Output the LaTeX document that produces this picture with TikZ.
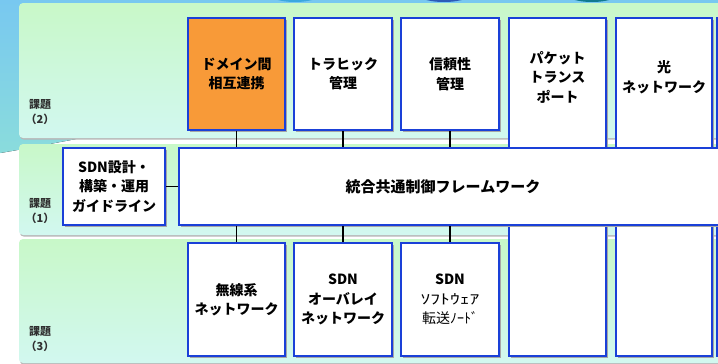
\documentclass[tikz,border=0pt]{standalone}
\usepackage{fontspec}
\usepackage{graphicx}
\newfontfamily\jp{Noto Sans CJK JP}
\definecolor{boxblue}{HTML}{1A40D8}
\definecolor{orangebox}{HTML}{F89A38}
\definecolor{bandtop}{HTML}{C8F8C8}
\definecolor{bandbot}{HTML}{D2F8F0}
\definecolor{skytop}{HTML}{78C8F0}
\definecolor{skybot}{HTML}{8ADCDC}
\definecolor{blobA}{HTML}{3AA8E0}
\definecolor{blobB}{HTML}{2C5CB8}
\definecolor{blobC}{HTML}{107A90}
\definecolor{lbltext}{HTML}{303030}
\tikzset{
  band/.style={rounded corners=4pt, top color=bandtop, bottom color=bandbot,
    preaction={fill=black!28, rounded corners=4pt, transform canvas={xshift=0.8pt,yshift=-1.6pt}}},
  box/.style={draw=boxblue, line width=2pt, fill=white, inner sep=0pt,
    preaction={fill=black!35, transform canvas={xshift=2pt,yshift=-2pt}},
    font=\jp\bfseries\fontsize{14}{19.5}\selectfont, align=center, text=black},
  txt/.style={font=\jp\bfseries\fontsize{14}{19.5}\selectfont, align=center, text=black, inner sep=0pt},
  lbl/.style={font=\jp\bfseries\fontsize{11}{15}\selectfont, align=center, text=lbltext, inner sep=0pt},
  conn/.style={line width=1.3pt, black},
}
\begin{document}
\begin{tikzpicture}[x=1pt,y=-1pt]
\useasboundingbox (0,0) rectangle (718,364);
% background
\fill[white] (0,0) rectangle (718,364);
\fill[top color=skytop, bottom color=skybot] (0,0) -- (718,0) -- (718,40) .. controls (300,90) and (80,140) .. (0,153) -- cycle;
\fill[blobA] (295,-9) ellipse [x radius=30, y radius=11];
\fill[blobB] (444,-9) ellipse [x radius=31, y radius=11];
\fill[blobC] (592,-9) ellipse [x radius=30, y radius=11];
% bands
\path[band] (19,3) rectangle (740,138);
\path[band] (19,144) rectangle (740,235);
\path[band] (19,239) rectangle (740,363);
% row labels
\node[lbl] (l2) at (40,112.5) {課題\\（2）};
\node[lbl] (l1) at (40,211) {課題\\（1）};
\node[lbl] (l3) at (40,339.5) {課題\\（3）};
% tall boxes
\node[box, minimum width=97pt, minimum height=338pt] (c4) at (557.5,187) {};
\node[box, minimum width=96pt, minimum height=338pt] (c5) at (664,187) {};
\node[box, minimum width=102pt, minimum height=338pt] (c6) at (768,187) {};
\node[txt] (t4) at (557.5,77) {パケット\\トランス\\ポート};
\node[txt] (t5) at (664,77) {光\\ネットワーク};
% framework
\node[box, minimum width=560pt, minimum height=77pt] (fw) at (459,186.5) {};
\node[txt, font=\jp\bfseries\fontsize{15}{19.5}\selectfont] (fwt) at (443,187) {統合共通制御フレームワーク};
\node[box, minimum width=102pt, minimum height=77pt] (sdn) at (114,186.5) {SDN設計・\\構築・運用\\ガイドライン};
% top boxes
\node[box, fill=orangebox, minimum width=97pt, minimum height=112pt] (c1) at (236.5,74) {ドメイン間\\相互連携};
\node[box, minimum width=98pt, minimum height=112pt] (c2) at (343,74) {トラヒック\\管理};
\node[box, minimum width=98pt, minimum height=112pt] (c3) at (450,74) {信頼性\\管理};
% bottom boxes
\node[box, minimum width=97pt, minimum height=113pt] (b1) at (236.5,299.5) {無線系\\ネットワーク};
\node[box, minimum width=98pt, minimum height=113pt] (b2) at (343,299.5) {SDN\\オーバレイ\\ネットワーク};
\node[box, minimum width=98pt, minimum height=113pt] (b3) at (450,299.5) {SDN\\{\mdseries\scalebox{1.4}[1]{ｿﾌﾄｳｪｱ}}\\{\mdseries 転送ﾉｰﾄﾞ}};
% connectors
\draw[conn] (c1.south) -- (c1.south |- fw.north);
\draw[conn] (c2.south) -- (c2.south |- fw.north);
\draw[conn] (c3.south) -- (c3.south |- fw.north);
\draw[conn] (b1.north) -- (b1.north |- fw.south);
\draw[conn] (b2.north) -- (b2.north |- fw.south);
\draw[conn] (b3.north) -- (b3.north |- fw.south);
\draw[conn] (sdn.east) -- (fw.west);
\end{tikzpicture}
\end{document}
